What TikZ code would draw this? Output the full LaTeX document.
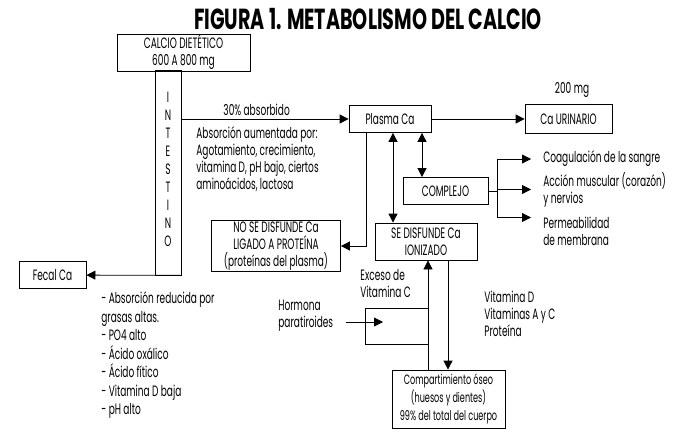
\documentclass[tikz,border=0pt]{standalone}
\usepackage{fontspec}
\setmainfont{Poppins}[FakeStretch=0.6]
\newfontfamily\titulofont{Poppins}[FakeStretch=0.66]
\usetikzlibrary{arrows.meta}
\newcommand{\letra}{\fontsize{15}{17}\selectfont}
\tikzset{
  caja/.style={draw, line width=0.8pt, align=center, inner sep=1pt},
  texto/.style={align=left, inner sep=0pt},
}
\begin{document}
\begin{tikzpicture}[x=1pt, y=-1pt, auto, line width=0.8pt,
    >={Triangle[length=9pt, width=9pt]}, font=\letra]
  \useasboundingbox (0,0) rectangle (687,441);
  \node (titulo) at (368,19) {\titulofont\bfseries\fontsize{29}{32}\selectfont FIGURA 1. METABOLISMO DEL CALCIO};
  % cajas
  \node[caja, minimum width=133pt, minimum height=35pt] (calcio) at (183.5,52.5) {CALCIO DIETÉTICO\\600 A 800 mg};
  \node[caja, minimum width=26pt, minimum height=205pt] (intestino) at (168,172.5) {};
  \node[align=center, font=\fontsize{15}{18}\selectfont] (letras) at (168,169) {I\\N\\T\\E\\S\\T\\I\\N\\O};
  \node[caja, minimum width=82pt, minimum height=27pt] (plasma) at (390,119) {Plasma Ca};
  \node[caja, minimum width=87pt, minimum height=29pt] (urinario) at (568.5,119) {Ca URINARIO};
  \node (mg) at (572,90) {200 mg};
  \node[caja, minimum width=85pt, minimum height=27pt] (complejo) at (445.5,191) {COMPLEJO};
  \node[caja, minimum width=102pt, minimum height=37pt] (ionizado) at (426,241.5) {SE DISFUNDE Ca\\IONIZADO};
  \node[caja, minimum width=129pt, minimum height=50pt] (ligado) at (276,246) {NO SE DISFUNDE Ca\\LIGADO A PROTEÍNA\\(proteínas del plasma)};
  \node[caja, minimum width=67pt, minimum height=27pt] (fecal) at (52.5,275) {Fecal Ca};
  \node[caja, minimum width=113pt, minimum height=58pt, font=\fontsize{13.5}{18}\selectfont] (oseo) at (448.5,399) {Compartimiento óseo\\(huesos y dientes)\\99\% del total del cuerpo};
  % textos
  \node[texto, anchor=west] (aumentada) at (196,159.5) {Absorción aumentada por:\\Agotamiento, crecimiento,\\vitamina D, pH bajo, ciertos\\aminoácidos, lactosa};
  \node[texto, anchor=west, font=\fontsize{15}{18.5}\selectfont] (reducida) at (101,355.5) {- Absorción reducida por\\grasas altas.\\- PO4 alto\\- Ácido oxálico\\- Ácido fítico\\- Vitamina D baja\\- pH alto};
  \node[texto, anchor=west] (exceso) at (360,284) {Exceso de\\Vitamina C};
  \node[texto, anchor=west] (hormona) at (278,316) {Hormona\\paratiroides};
  \node[texto, anchor=west] (vitaminas) at (484,314) {Vitamina D\\Vitaminas A y C\\Proteína};
  \node[texto, anchor=west] (coag) at (543,159) {Coagulación de la sangre};
  \node[texto, anchor=west] (accion) at (543,189.5) {Acción muscular (corazón)\\y nervios};
  \node[texto, anchor=west] (perm) at (543,231.5) {Permeabilidad\\de membrana};
  % flechas
  \draw[->] (intestino.east |- plasma) to node[pos=0.45] {30\% absorbido} (plasma);
  \draw[->] (plasma) -- (urinario);
  \draw[->] (intestino.south east) -- (fecal);
  \coordinate (bajada) at (366,0);
  \draw[->] (plasma.south -| bajada) |- (ligado);
  \coordinate (flecha1) at ([xshift=3pt]plasma.south);
  \coordinate (flecha2) at ([xshift=32pt]plasma.south);
  \draw[<->] (flecha1) -- (flecha1 |- ionizado.north);
  \draw[<->] (flecha2) -- (flecha2 |- complejo.north);
  \coordinate (rama) at ([xshift=9pt]complejo.east);
  \coordinate (permflecha) at ([yshift=14pt]perm.west);
  \draw (complejo.east) -- (rama);
  \draw (rama |- coag) -- (rama |- permflecha);
  \draw[->, shorten >=12pt] (rama |- coag) -- (coag);
  \draw[->, shorten >=12pt] (rama |- accion) -- (accion);
  \draw[->, shorten >=12pt] (rama |- permflecha) -- (permflecha);
  \coordinate (sube) at (428,0);
  \coordinate (baja) at (448,0);
  \draw[->] (sube |- oseo.north) -- (sube |- ionizado.south);
  \draw[->] (baja |- ionizado.south) -- (baja |- oseo.north);
  \coordinate (pta) at (365,308);
  \coordinate (ptb) at (365,344);
  \draw (sube |- pta) -- (pta) -- (ptb) -- (sube |- ptb);
  \coordinate (ptm) at (383,322);
  \draw[->, shorten <=12pt] (hormona.east |- ptm) -- (ptm);
\end{tikzpicture}
\end{document}
